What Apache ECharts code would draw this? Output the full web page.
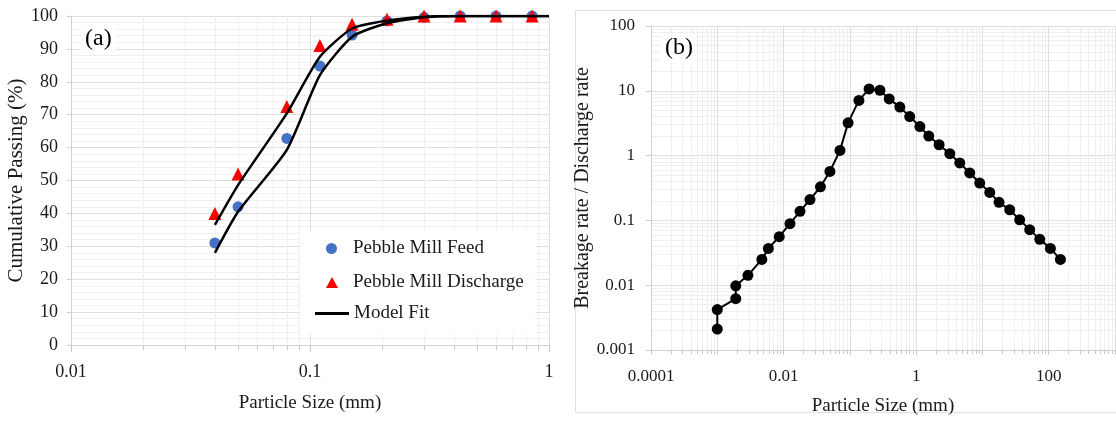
<!DOCTYPE html>
<html><head><meta charset="utf-8">
<script src="https://cdn.jsdelivr.net/npm/echarts@6/dist/echarts.min.js"></script>
<style>html,body{margin:0;padding:0;background:#fff}#c{width:1116px;height:421px}</style>
</head><body><div id="c"></div>
<script>
// ---------- Panel (a) data ----------
const sizesA = [0.04, 0.05, 0.08, 0.11, 0.15, 0.21, 0.3, 0.425, 0.6, 0.85];
const feedA = [31, 42, 62.8, 84.8, 94.2, 98.5, 99.6, 100, 100, 100];
const dischargeA = [40, 52, 72.5, 91, 97.5, 99, 100, 100, 100, 100];
const fitSizesA = [0.04, 0.05, 0.08, 0.11, 0.15, 0.21, 0.3, 0.425, 0.6, 0.85, 1];
const feedFitA = [28, 40.5, 59.3, 82, 93.7, 97.8, 99.6, 100, 100, 100, 100];
const dischargeFitA = [36.5, 48.6, 70.4, 87.6, 96.2, 98.6, 99.8, 100, 100, 100, 100];
const xTicksA = ['0.01', '0.1', '1'];
const yTicksA = ['0', '10', '20', '30', '40', '50', '60', '70', '80', '90', '100'];

// ---------- Panel (b) data ----------
const sizesB = [0.001, 0.001, 0.0019, 0.0019, 0.0029, 0.0047, 0.0059, 0.0086, 0.0125, 0.0177,
  0.025, 0.036, 0.05, 0.071, 0.094, 0.137, 0.195, 0.284, 0.392, 0.568,
  0.8, 1.14, 1.55, 2.22, 3.22, 4.55, 6.44, 9.1, 12.9, 17.8,
  25.8, 36.5, 51.7, 73.3, 106, 150];
const ratesB = [0.0021, 0.0042, 0.0062, 0.0098, 0.0142, 0.025, 0.037, 0.056, 0.089, 0.138,
  0.21, 0.33, 0.57, 1.2, 3.2, 7.1, 10.7, 10.2, 7.5, 5.6,
  4.0, 2.8, 2.0, 1.47, 1.07, 0.77, 0.54, 0.377, 0.27, 0.19,
  0.146, 0.102, 0.072, 0.051, 0.037, 0.025];
const xTicksB = ['0.0001', '0.01', '1', '100'];
const yTicksB = ['0.001', '0.01', '0.1', '1', '10', '100'];

const FONT = "'Liberation Serif', 'DejaVu Serif', serif";
const TXT = '#1a1a1a';
const zip = (a, b) => a.map((v, i) => [v, b[i]]);
const logFmt = (labels, minExp, step) => v => {
  const k = Math.round(Math.log10(v)) - minExp;
  return (k % step === 0 && labels[k / step] !== undefined) ? labels[k / step] : '';
};

const axisLine = { show: true, lineStyle: { color: '#d0d0d0', width: 1 } };
const major = { show: true, lineStyle: { color: '#dedede', width: 1 } };
const minor = { show: true, lineStyle: { color: '#efefef', width: 1 } };
const lbl = (m, fs) => ({ color: TXT, fontFamily: FONT, fontSize: fs || 17, margin: m });
const nameStyle = (fs) => ({ color: TXT, fontFamily: FONT, fontSize: fs });
// legend icons drawn inside a 34x12 box so they sit centred like the reference
const ICON_CIRCLE = 'path://M0,0 M34,12 M23,6 A5.5,5.5 0 1 1 12,6 A5.5,5.5 0 1 1 23,6 Z';
const ICON_TRI = 'path://M0,0 M34,12 M12,11.5 L18,0.5 L24,11.5 Z';

const chart = echarts.init(document.getElementById('c'), null, { renderer: 'canvas' });
chart.setOption({
  animation: false,
  backgroundColor: '#fff',
  title: [
    { text: '(a)', left: 81, top: 24, padding: [3, 4], backgroundColor: '#fff',
      textStyle: { fontFamily: FONT, fontSize: 24, fontWeight: 'normal', color: '#000' } },
    { text: '(b)', left: 661, top: 33, padding: [3, 4], backgroundColor: '#fff',
      textStyle: { fontFamily: FONT, fontSize: 24, fontWeight: 'normal', color: '#000' } }
  ],
  graphic: [
    { type: 'rect', shape: { x: 575.5, y: 10.5, width: 560, height: 402 },
      style: { fill: 'none', stroke: '#e0e0e0', lineWidth: 1 }, silent: true, z: -10 }
  ],
  legend: [
    {
      left: 300, top: 231, orient: 'vertical', backgroundColor: '#fff',
      padding: [8, 12, 42, 14], itemWidth: 34, itemHeight: 12, itemGap: 15,
      symbolKeepAspect: false,
      textStyle: { fontFamily: FONT, fontSize: 19, color: TXT },
      data: [
        { name: 'Pebble Mill Feed', icon: ICON_CIRCLE },
        { name: 'Pebble Mill Discharge', icon: ICON_TRI }
      ]
    },
    {
      left: 315, top: 304, orient: 'vertical', padding: 0, z: 6,
      itemWidth: 34, itemHeight: 3, itemGap: 4,
      textStyle: { fontFamily: FONT, fontSize: 19, color: TXT },
      data: [{ name: 'Model Fit', icon: 'rect', itemStyle: { color: '#000' } }]
    }
  ],
  grid: [
    { left: 71, top: 16, width: 478, height: 329 },
    { left: 651, top: 26, width: 464, height: 324 }
  ],
  xAxis: [
    { type: 'log', gridIndex: 0, min: 0.01, max: 1, logBase: 10,
      name: 'Particle Size (mm)', nameLocation: 'middle', nameGap: 49, nameTextStyle: nameStyle(19),
      axisLine: axisLine, axisTick: { show: true, length: 7, lineStyle: { color: '#c8c8c8' } },
      minorTick: { show: true, splitNumber: 9, length: 5, lineStyle: { color: '#c8c8c8' } },
      splitLine: major, minorSplitLine: minor,
      axisLabel: Object.assign(lbl(18, 18), { formatter: logFmt(xTicksA, -2, 1) }) },
    { type: 'log', gridIndex: 1, min: 0.0001, max: 1000, logBase: 10,
      name: 'Particle Size (mm)', nameLocation: 'middle', nameGap: 47, nameTextStyle: nameStyle(19),
      axisLine: axisLine, axisTick: { show: true, length: 5, lineStyle: { color: '#c8c8c8' } },
      minorTick: { show: true, splitNumber: 9, length: 4, lineStyle: { color: '#c8c8c8' } },
      splitLine: major, minorSplitLine: minor,
      axisLabel: Object.assign(lbl(18, 17), { formatter: logFmt(xTicksB, -4, 2), showMaxLabel: false }) }
  ],
  yAxis: [
    { type: 'value', gridIndex: 0, min: 0, max: 100, interval: 10,
      name: 'Cumulative Passing (%)', nameLocation: 'middle', nameGap: 44,
      nameTextStyle: nameStyle(21),
      axisLine: axisLine, axisTick: { show: true, length: 4, lineStyle: { color: '#d0d0d0' } },
      minorTick: { show: false, splitNumber: 5 },
      splitLine: major, minorSplitLine: minor,
      axisLabel: Object.assign(lbl(13, 18), { formatter: v => yTicksA[Math.round(v / 10)] }) },
    { type: 'log', gridIndex: 1, min: 0.001, max: 100, logBase: 10,
      name: 'Breakage rate / Discharge rate', nameLocation: 'middle', nameGap: 52, nameTextStyle: nameStyle(20),
      axisLine: axisLine, axisTick: { show: true, length: 5, lineStyle: { color: '#d0d0d0' } },
      minorTick: { show: false, splitNumber: 9 },
      splitLine: major, minorSplitLine: minor,
      axisLabel: Object.assign(lbl(16, 17), { formatter: logFmt(yTicksB, -3, 1) }) }
  ],
  series: [
    { name: 'Model Fit', type: 'line', xAxisIndex: 0, yAxisIndex: 0, data: zip(fitSizesA, feedFitA),
      symbol: 'none', smooth: 0.2, lineStyle: { color: '#000', width: 2.5 }, itemStyle: { color: '#000' } },
    { name: 'Model Fit', type: 'line', xAxisIndex: 0, yAxisIndex: 0, data: zip(fitSizesA, dischargeFitA),
      symbol: 'none', smooth: 0.2, lineStyle: { color: '#000', width: 2.5 }, itemStyle: { color: '#000' } },
    { name: 'Pebble Mill Feed', type: 'scatter', xAxisIndex: 0, yAxisIndex: 0, data: zip(sizesA, feedA),
      symbol: 'circle', symbolSize: 11, itemStyle: { color: '#4472C4', opacity: 1 } },
    { name: 'Pebble Mill Discharge', type: 'scatter', xAxisIndex: 0, yAxisIndex: 0, data: zip(sizesA, dischargeA),
      symbol: 'triangle', symbolSize: 13, itemStyle: { color: '#FF0000', opacity: 1 } },
    { name: 'Breakage rate', type: 'line', xAxisIndex: 1, yAxisIndex: 1, data: zip(sizesB, ratesB),
      symbol: 'circle', symbolSize: 11, showSymbol: true, lineStyle: { color: '#000', width: 2 },
      itemStyle: { color: '#000' } }
  ]
});
</script>
</body></html>
